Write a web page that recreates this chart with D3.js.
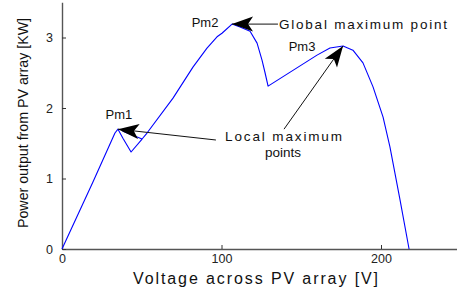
<!DOCTYPE html>
<html lang="en">
    <head>
        <meta charset="utf-8">
        <title>PV array P-V curve</title>
        <script src="https://d3js.org/d3.v7.min.js"></script>
        <style type="text/css">
            body{
                margin: 0;
                background: #fff;
            }
            svg{
                display: block;
                font-family: "Liberation Sans", Arial, sans-serif;
            }
        </style>
    </head>
    <body>
        <svg></svg>
        <script type="text/javascript">

        const w = 457;
        const h = 288;

        //DATA (voltage in V, power in kW)
        const voltage = [0, 19.4, 33.2, 35.1, 38.2, 43.3, 50.2, 38.2, 50.2, 53.3, 69.6, 82.1, 90.9, 97.2, 100.3,
                         106.6, 111.6, 117.9, 122.3, 125.4, 127.3, 129.2, 159.9, 168.0, 176.2, 182.4, 188.7,
                         195.0, 201.3, 205.6, 211.9, 217.6];
        const power   = [0, 0.95, 1.645, 1.70, 1.57, 1.376, 1.56, 1.67, 1.56, 1.645, 2.14, 2.58, 2.85, 3.01, 3.06,
                         3.19, 3.15, 3.09, 2.92, 2.68, 2.50, 2.31, 2.75, 2.85, 2.88, 2.82, 2.64,
                         2.30, 1.87, 1.45, 0.70, 0];

        const xTicks = [0, 100, 200];
        const yTicks = [0, 1, 2, 3];

        const peakNames = ["Pm1", "Pm2", "Pm3"];
        const peakIndex = [3, 15, 24];

        //SCALES
        const x = d3.scaleLinear().domain([0, 250]).range([62, 460.75]);
        const y = d3.scaleLinear().domain([0, 3.5]).range([249, 2.25]);

        const svg = d3.select("svg").attr("width", w).attr("height", h);

        //AXES (ticks point inward)
        const xAxis = d3.axisBottom(x).tickValues(xTicks).tickFormat(d3.format("d"))
                        .tickSizeInner(-4).tickSizeOuter(0).tickPadding(5);
        const yAxis = d3.axisLeft(y).tickValues(yTicks).tickFormat(d3.format("d"))
                        .tickSizeInner(-4).tickSizeOuter(0).tickPadding(8);

        const gx = svg.append("g").attr("transform", "translate(0,249)").call(xAxis);
        const gy = svg.append("g").attr("transform", "translate(62,0)").call(yAxis);

        [gx, gy].forEach(g => {
            g.select(".domain").attr("stroke", "#555").attr("stroke-width", 1.4);
            g.selectAll(".tick line").attr("stroke", "#333").attr("stroke-width", 1);
            g.selectAll(".tick text")
             .attr("fill", "#222")
             .attr("font-size", 12.5)
             .attr("font-family", "Liberation Sans, Arial, sans-serif");
        });
        gx.selectAll(".tick text").attr("dy", "0.75em");
        gy.selectAll(".tick text").attr("dx", "-1px");

        //CURVE
        const pts = voltage.map((v, i) => [v, power[i]]);
        const line = d3.line().x(d => x(d[0])).y(d => y(d[1]));

        svg.append("path")
           .datum(pts)
           .attr("d", line)
           .attr("fill", "none")
           .attr("stroke", "#0000ff")
           .attr("stroke-width", 1.1)
           .attr("stroke-linejoin", "round");

        //PEAK LABELS
        const labelOffset = [[1, -15], [-27, -2], [-41, 1]];
        svg.selectAll(".pm")
           .data(peakNames)
           .join("text")
           .attr("class", "pm")
           .attr("x", (d, i) => x(voltage[peakIndex[i]]) + labelOffset[i][0])
           .attr("y", (d, i) => y(power[peakIndex[i]]) + labelOffset[i][1])
           .attr("text-anchor", "middle")
           .attr("dominant-baseline", "central")
           .attr("font-size", 13)
           .attr("fill", "#111")
           .text(d => d);

        //ARROWS: tail in data coords, tip = peak
        const arrows = [
            {tail: [96.5, 1.546], peak: 0},
            {tail: [135.4, 3.19], peak: 1},
            {tail: [139.2, 1.70], peak: 2}
        ];

        function arrowHead(tx, ty, sx, sy) {
            const dx = tx - sx, dy = ty - sy;
            const len = Math.hypot(dx, dy);
            const ux = dx / len, uy = dy / len;
            const L = 21, W = 7.5, N = 5;
            const bx = tx - ux * L, by = ty - uy * L;
            const nx = tx - ux * (L - N), ny = ty - uy * (L - N);
            return [[tx, ty], [bx - uy * W, by + ux * W], [nx, ny], [bx + uy * W, by - ux * W]];
        }

        arrows.forEach(a => {
            const pi = peakIndex[a.peak];
            const tx = x(voltage[pi]), ty = y(power[pi]);
            const sx = x(a.tail[0]), sy = y(a.tail[1]);
            svg.append("line")
               .attr("x1", sx).attr("y1", sy)
               .attr("x2", tx).attr("y2", ty)
               .attr("stroke", "#111")
               .attr("stroke-width", 1);
            svg.append("path")
               .attr("d", "M" + arrowHead(tx, ty, sx, sy).join("L") + "Z")
               .attr("fill", "#000");
        });

        //ANNOTATION TEXT
        svg.append("text")
           .attr("x", 279).attr("y", 24)
           .attr("dominant-baseline", "central")
           .attr("font-size", 13.5)
           .attr("textLength", 168)
           .attr("lengthAdjust", "spacing")
           .attr("fill", "#111")
           .text("Global maximum point");

        svg.append("text")
           .attr("x", 225).attr("y", 136)
           .attr("dominant-baseline", "central")
           .attr("font-size", 13.5)
           .attr("textLength", 117)
           .attr("lengthAdjust", "spacing")
           .attr("fill", "#111")
           .text("Local maximum");

        svg.append("text")
           .attr("x", 283).attr("y", 152)
           .attr("text-anchor", "middle")
           .attr("dominant-baseline", "central")
           .attr("font-size", 13.5)
           .attr("fill", "#111")
           .text("points");

        //AXIS LABELS
        svg.append("text")
           .attr("x", 133).attr("y", 278)
           .attr("dominant-baseline", "central")
           .attr("font-size", 16)
           .attr("textLength", 245)
           .attr("lengthAdjust", "spacing")
           .attr("fill", "#111")
           .text("Voltage across PV array [V]");

        svg.append("text")
           .attr("transform", "translate(22,123) rotate(-90)")
           .attr("text-anchor", "middle")
           .attr("dominant-baseline", "central")
           .attr("font-size", 15)
           .attr("textLength", 210)
           .attr("lengthAdjust", "spacingAndGlyphs")
           .attr("fill", "#111")
           .text("Power output from PV array [KW]");

        </script>
    </body>
</html>
